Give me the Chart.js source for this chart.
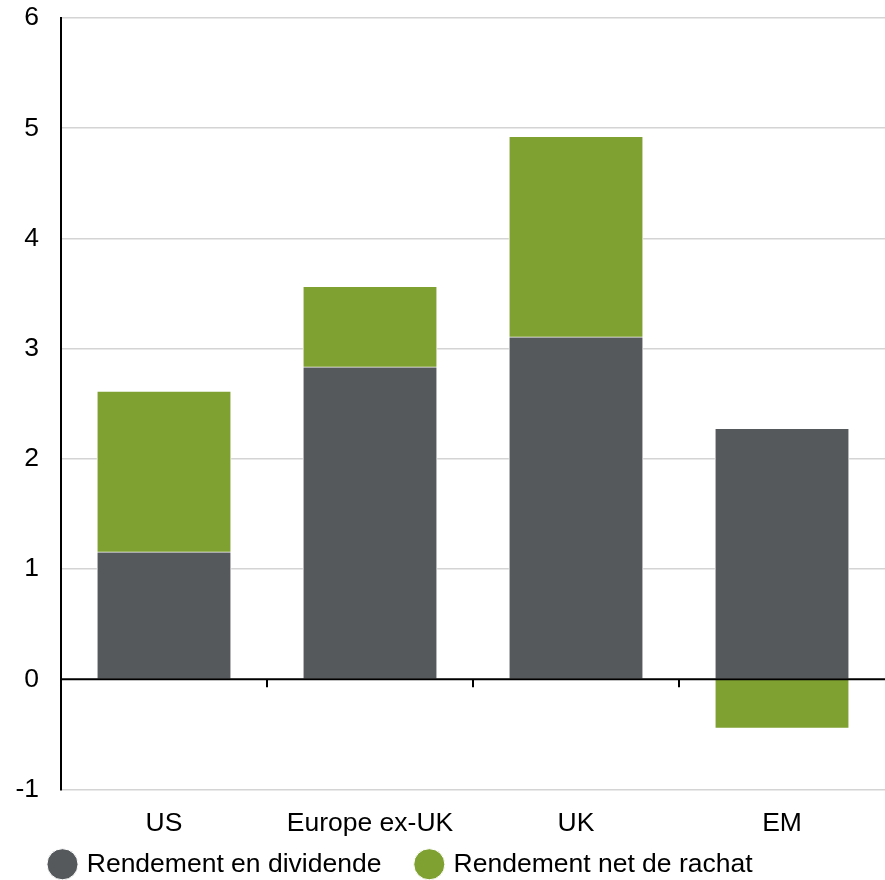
<!DOCTYPE html>
<html>
<head>
<meta charset="utf-8">
<script src="https://cdn.jsdelivr.net/npm/chart.js@4.4.1/dist/chart.umd.min.js"></script>
<style>
  html, body { margin: 0; padding: 0; background: #fff; }
  #wrap { width: 885px; height: 880px; }
</style>
</head>
<body>
<div id="wrap"><canvas id="myChart"></canvas></div>
<script>
const categories = ['US', 'Europe ex-UK', 'UK', 'EM'];
const dividendYield = [1.15, 2.83, 3.10, 2.27];
const netBuybackYield = [1.46, 0.73, 1.82, -0.44];
const yTicks = [-1, 0, 1, 2, 3, 4, 5, 6];

const gray = '#55595c';
const green = '#7ea131';
const fontFamily = 'Liberation Sans, Arial, sans-serif';
const fontSize = 26.5;

// zero line + small category ticks hanging under it
const zeroLine = {
    id: 'zeroLine',
    afterDatasetsDraw: (chart) => {
        const ctx = chart.ctx;
        const x = chart.scales.x;
        const y0 = chart.scales.y.getPixelForValue(0);
        ctx.save();
        ctx.strokeStyle = '#000';
        ctx.lineWidth = 2;
        ctx.beginPath();
        ctx.moveTo(chart.chartArea.left, y0);
        ctx.lineTo(chart.chartArea.right, y0);
        for (let i = 1; i < categories.length; i++) {
            const bx = (x.getPixelForValue(i - 1) + x.getPixelForValue(i)) / 2;
            ctx.moveTo(bx, y0);
            ctx.lineTo(bx, y0 + 8);
        }
        ctx.stroke();
        ctx.restore();
    },
    afterLayout: (chart) => {
        // push the legend a bit to the right, like the original
        if (chart.legend) chart.legend.left += 42;
    }
};

const data = {
    labels: categories,
    datasets: [{
        label: 'Rendement en dividende',
        data: dividendYield,
        backgroundColor: gray,
        borderColor: '#fff',
        borderWidth: 1,
        borderSkipped: false,
        inflateAmount: 1,
        barPercentage: 0.645,
        categoryPercentage: 1
    }, {
        label: 'Rendement net de rachat',
        data: netBuybackYield,
        backgroundColor: green,
        borderColor: '#fff',
        borderWidth: 1,
        borderSkipped: false,
        inflateAmount: 1,
        barPercentage: 0.645,
        categoryPercentage: 1
    }]
};

const config = {
    type: 'bar',
    data: data,
    plugins: [zeroLine],
    options: {
        responsive: true,
        maintainAspectRatio: false,
        animation: false,
        layout: { padding: { top: 18, right: 0, left: 0, bottom: -7.5 } },
        scales: {
            x: {
                stacked: true,
                afterFit: (scale) => { scale.height = 52; },
                grid: { display: false, drawTicks: false },
                border: { display: false },
                ticks: {
                    color: '#000',
                    padding: 18,
                    font: { family: fontFamily, size: fontSize }
                }
            },
            y: {
                stacked: true,
                min: -1,
                max: 6,
                afterFit: (scale) => {
                    scale.width = 61;
                    scale.paddingTop = 0;
                    scale.paddingBottom = 0;
                },
                afterBuildTicks: (scale) => { scale.ticks = yTicks.map(v => ({ value: v })); },
                border: { color: '#000', width: 2 },
                grid: {
                    drawTicks: false,
                    color: (c) => c.tick && c.tick.value === 0 ? 'rgba(0,0,0,0)' : '#d4d4d4',
                    lineWidth: 1.5
                },
                ticks: {
                    color: '#000',
                    padding: 22,
                    font: { family: fontFamily, size: fontSize }
                }
            }
        },
        plugins: {
            tooltip: { enabled: false },
            legend: {
                position: 'bottom',
                align: 'start',
                labels: {
                    usePointStyle: true,
                    pointStyle: 'circle',
                    boxWidth: 22,
                    boxHeight: 22,
                    padding: 9.5,
                    color: '#000',
                    font: { family: fontFamily, size: fontSize },
                    generateLabels: (chart) => {
                        const items = Chart.defaults.plugins.legend.labels.generateLabels(chart);
                        // extra gap after the first entry
                        items[0].text += '   \u2009';
                        return items;
                    }
                }
            }
        }
    }
};

var myChart = new Chart(document.getElementById('myChart'), config);
</script>
</body>
</html>
